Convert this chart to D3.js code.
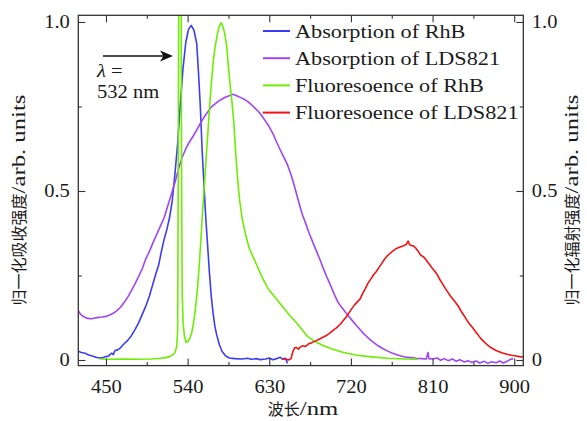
<!DOCTYPE html>
<html>
<head>
<meta charset="utf-8">
<script src="https://cdn.jsdelivr.net/npm/d3@7"></script>
<style>
  html, body { margin: 0; padding: 0; background: #fff; }
  svg { display: block; }
  svg text { fill: #1a1a1a; font-family: "Liberation Serif", "DejaVu Serif", serif; }
  svg text .cjk { font-family: "Noto Sans CJK SC", sans-serif; }
</style>
</head>
<body>
<svg id="chart" width="587" height="421"></svg>
<script>
// Wavelength (nm) and normalised intensity pairs for each spectrum
const absRhB = [
  [419,0.026],[423,0.022],[427,0.02],[431,0.015],[435,0.012],[439,0.008],[443,0.006],[447,0.007],
  [450,0.01],[453,0.012],[456,0.02],[458,0.016],[460,0.028],[463,0.03],[466,0.036],[470,0.048],
  [474,0.058],[478,0.072],[482,0.09],[486,0.11],[490,0.135],[494,0.16],[498,0.19],[502,0.228],
  [505,0.255],[508,0.28],[511,0.32],[514,0.356],[517,0.385],[520,0.42],[523,0.47],[526,0.55],
  [529,0.64],[532,0.76],[535,0.865],[538,0.94],[541,0.978],[544,0.99],[547,0.975],[550,0.937],
  [552,0.85],[554,0.75],[556,0.62],[558,0.52],[560,0.42],[562,0.34],[564,0.26],[566,0.19],
  [568,0.14],[570,0.1],[572,0.075],[575,0.045],[578,0.025],[582,0.012],[586,0.006],[592,0.004],
  [600,0.003],[606,0.005],[610,0.002],[616,0.004],[620,0.001],[626,0.003],[630,0.006],[634,0.001],
  [638,0.004],[642,0.008],[645,0.002],[648,0.005],[650,-0.01]
];

const absLDS821 = [
  [419,0.148],[422,0.135],[426,0.127],[430,0.123],[434,0.122],[438,0.124],[442,0.126],[446,0.127],
  [450,0.129],[454,0.133],[458,0.138],[462,0.146],[466,0.156],[470,0.17],[474,0.186],[478,0.205],
  [482,0.225],[486,0.247],[490,0.27],[494,0.3],[498,0.322],[502,0.348],[506,0.372],[510,0.396],
  [514,0.42],[518,0.455],[522,0.49],[526,0.525],[530,0.565],[534,0.6],[538,0.625],[542,0.645],
  [546,0.662],[550,0.68],[554,0.7],[558,0.718],[562,0.733],[566,0.748],[570,0.757],[574,0.766],
  [578,0.772],[582,0.778],[586,0.782],[590,0.786],[594,0.782],[598,0.777],[602,0.772],[606,0.765],
  [610,0.756],[614,0.746],[618,0.735],[622,0.722],[626,0.706],[630,0.69],[634,0.67],[638,0.645],
  [642,0.622],[646,0.6],[650,0.578],[654,0.548],[658,0.512],[662,0.472],[666,0.434],[670,0.405],
  [674,0.375],[678,0.348],[682,0.322],[686,0.296],[690,0.268],[694,0.242],[698,0.218],[702,0.192],
  [706,0.17],[710,0.155],[714,0.141],[718,0.128],[722,0.115],[726,0.102],[730,0.09],[734,0.078],
  [738,0.068],[742,0.058],[746,0.05],[750,0.042],[755,0.034],[760,0.027],[765,0.021],[770,0.016],
  [775,0.012],[780,0.009],[786,0.007],[792,0.005],[798,0.004],[803,0.003],[805,0.022],[806,0.004],
  [810,0.003],[815,0.006],[819,-0.001],[823,0.004],[827,-0.002],[832,0.003],[836,-0.004],[840,0.001],
  [845,-0.006],[849,-0.002],[853,-0.007],[858,-0.003],[862,-0.009],[867,-0.004],[871,-0.01],[875,-0.005],
  [880,-0.008],[884,-0.003],[888,-0.009],[892,-0.004],[896,0.002],[899,0.004]
];

const fluRhB = [
  [443,0.003],[455,0.002],[470,0.003],[485,0.002],[500,0.003],[510,0.005],[516,0.007],[520,0.01],
  [523,0.014],[526,0.022],[528,0.04],[529,0.09],[529.6,0.5],[530.2,1.1],[532.8,1.1],[533.4,0.5],
  [534,0.2],[535,0.11],[536.5,0.07],[538.5,0.052],[540.5,0.055],[542.5,0.065],[544.5,0.08],
  [546.5,0.11],[548.5,0.15],[550.5,0.2],[552.5,0.27],[554.5,0.35],[556.5,0.44],[558.5,0.52],
  [560.5,0.6],[562.5,0.68],[564.5,0.76],[566.5,0.83],[568.5,0.89],[570.5,0.93],[572.5,0.96],
  [574.5,0.985],[577,0.998],[579,0.985],[581,0.965],[583,0.93],[585,0.865],[587,0.81],[589,0.76],
  [591,0.7],[593,0.61],[595,0.54],[597,0.48],[600,0.42],[604,0.37],[608,0.33],[613,0.3],[618,0.27],
  [623,0.24],[629,0.21],[635,0.19],[641,0.17],[647,0.15],[653,0.13],[660,0.11],[666,0.09],[672,0.07],
  [680,0.055],[690,0.042],[700,0.032],[712,0.022],[725,0.015],[740,0.01],[760,0.005],[780,0.003],
  [794,0.002]
];

const fluLDS821 = [
  [645,0.004],[648,0.002],[651,0.0],[654,0.004],[656,0.025],[658,0.036],[660,0.037],[662,0.032],
  [664,0.038],[667,0.042],[670,0.04],[673,0.047],[676,0.05],[680,0.055],[684,0.06],[688,0.066],
  [692,0.071],[696,0.078],[700,0.087],[704,0.095],[708,0.105],[712,0.118],[715,0.128],[718,0.14],
  [721,0.152],[724,0.163],[727,0.172],[730,0.18],[733,0.197],[736,0.212],[739,0.228],[742,0.24],
  [745,0.252],[748,0.262],[751,0.274],[754,0.286],[757,0.298],[760,0.308],[763,0.315],[766,0.322],
  [769,0.328],[772,0.332],[775,0.335],[778,0.338],[781,0.342],[783,0.352],[785,0.34],[788,0.338],
  [791,0.333],[794,0.322],[797,0.31],[800,0.305],[803,0.296],[806,0.285],[809,0.274],[812,0.264],
  [815,0.253],[818,0.238],[821,0.225],[824,0.212],[827,0.2],[830,0.188],[833,0.178],[836,0.168],
  [839,0.156],[842,0.142],[845,0.13],[848,0.117],[851,0.106],[854,0.096],[857,0.085],[860,0.075],
  [863,0.064],[866,0.056],[869,0.048],[872,0.041],[876,0.034],[880,0.028],[884,0.024],[888,0.02],
  [892,0.017],[897,0.014],[902,0.012],[906,0.01],[910,0.009]
];

const seriesNames = ["Absorption of RhB", "Absorption of LDS821", "Fluoresoence of RhB", "Fluoresoence of LDS821"];
const seriesColors = ["#3c3cf4", "#a044f4", "#6cee00", "#f21212"];

const xMajorTicks = [450, 540, 630, 720, 810, 900];
const xMinorTicks = [495, 585, 675, 765, 855];
const yMajorTicks = [0, 0.5, 1.0];
const yTickLabels = ["0", "0.5", "1.0"];
const yMinorTicks = [0.25, 0.75];

const xTitle = ["波长", "/nm"];
const yTitleLeft = ["归一化吸收强度", "/arb. units"];
const yTitleRight = ["归一化辐射强度", "/arb. units"];
const laserNote = [["λ", " ="], "532 nm"];

// ---- layout ----
const plot = { left: 78.3, right: 523.3, top: 15.3, bottom: 365.6 };
const widen = 1.14;   // horizontal widening applied to the serif text

// widen a text/tspan by stretching its glyphs along the baseline
function stretch(sel, k) {
  sel.each(function () {
    const w = this.getComputedTextLength();
    d3.select(this).attr("textLength", w * k).attr("lengthAdjust", "spacingAndGlyphs");
  });
}

const svg = d3.select("#chart");

const x = d3.scaleLinear().domain([419.5, 910]).range([plot.left, plot.right]);
const y = d3.scaleLinear().domain([-0.0166, 1.0198]).range([plot.bottom, plot.top]);

svg.append("defs").append("clipPath").attr("id", "plot-clip")
  .append("rect")
  .attr("x", plot.left).attr("y", plot.top)
  .attr("width", plot.right - plot.left).attr("height", plot.bottom - plot.top);

// ---- spectra ----
const line = d3.line().x(d => x(d[0])).y(d => y(d[1]));
const allSeries = [absRhB, absLDS821, fluRhB, fluLDS821];
const curves = svg.append("g").attr("clip-path", "url(#plot-clip)");
allSeries.forEach((data, i) => {
  curves.append("path")
    .datum(data)
    .attr("fill", "none")
    .attr("stroke", seriesColors[i])
    .attr("stroke-width", 1.6)
    .attr("stroke-linejoin", "round")
    .attr("d", line);
});

// ---- axes (ticks point inward) ----
const axisColor = "#333";
function styleAxis(g) {
  g.attr("font-family", null).attr("font-size", null);
  g.select(".domain").remove();
  g.selectAll(".tick line").attr("stroke", axisColor).attr("stroke-width", 1.1);
  g.selectAll(".tick text").style("font-size", "18px").attr("fill", "#1a1a1a")
    .call(stretch, widen);
}

svg.append("g").attr("transform", `translate(0,${plot.bottom})`)
  .call(d3.axisBottom(x).tickValues(xMajorTicks).tickSize(-7).tickPadding(14.5).tickFormat(d3.format("d")))
  .call(styleAxis);
svg.append("g").attr("transform", `translate(0,${plot.bottom})`)
  .call(d3.axisBottom(x).tickValues(xMinorTicks).tickSize(-3.5).tickFormat(""))
  .call(styleAxis);
svg.append("g").attr("transform", `translate(0,${plot.top})`)
  .call(d3.axisTop(x).tickValues(xMajorTicks).tickSize(-7).tickFormat(""))
  .call(styleAxis);
svg.append("g").attr("transform", `translate(0,${plot.top})`)
  .call(d3.axisTop(x).tickValues(xMinorTicks).tickSize(-3.5).tickFormat(""))
  .call(styleAxis);

svg.append("g").attr("transform", `translate(${plot.left},0)`)
  .call(d3.axisLeft(y).tickValues(yMajorTicks).tickSize(-7).tickPadding(8.5)
    .tickFormat((d, i) => yTickLabels[i]))
  .call(styleAxis);
svg.append("g").attr("transform", `translate(${plot.left},0)`)
  .call(d3.axisLeft(y).tickValues(yMinorTicks).tickSize(-3.5).tickFormat(""))
  .call(styleAxis);
svg.append("g").attr("transform", `translate(${plot.right},0)`)
  .call(d3.axisRight(y).tickValues(yMajorTicks).tickSize(-7).tickPadding(8.5)
    .tickFormat((d, i) => yTickLabels[i]))
  .call(styleAxis);
svg.append("g").attr("transform", `translate(${plot.right},0)`)
  .call(d3.axisRight(y).tickValues(yMinorTicks).tickSize(-3.5).tickFormat(""))
  .call(styleAxis);

// frame
svg.append("rect")
  .attr("x", plot.left).attr("y", plot.top)
  .attr("width", plot.right - plot.left).attr("height", plot.bottom - plot.top)
  .attr("fill", "none").attr("stroke", axisColor).attr("stroke-width", 1.3);

// ---- axis titles: CJK part followed by serif unit part ----
function title(parts, transform, latinSize) {
  const t = svg.append("text")
    .attr("transform", transform)
    .attr("text-anchor", "middle");
  t.append("tspan").attr("class", "cjk").style("font-size", "16px").text(parts[0]);
  t.append("tspan").style("font-size", latinSize + "px").text(parts[1])
    .call(stretch, 1.3);
  return t;
}
title(xTitle, "translate(303,415)", 19);
title(yTitleLeft, "translate(25,200) rotate(-90)", 19);
title(yTitleRight, "translate(578,200) rotate(-90)", 19);

// ---- legend ----
const legend = svg.append("g");
seriesNames.forEach((name, i) => {
  const ly = 31 + i * 27.2;
  legend.append("line")
    .attr("x1", 263).attr("x2", 290).attr("y1", ly).attr("y2", ly)
    .attr("stroke", seriesColors[i]).attr("stroke-width", 2);
  legend.append("text")
    .attr("x", 295).attr("y", ly + 6.5)
    .style("font-size", "19.5px")
    .text(name)
    .call(stretch, widen);
});

// ---- excitation wavelength annotation ----
svg.append("line")
  .attr("x1", 103).attr("x2", 165).attr("y1", 56).attr("y2", 56)
  .attr("stroke", "#111").attr("stroke-width", 1.4);
svg.append("path")
  .attr("d", "M173,56 L160,50.5 L163.5,56 L160,61.5 Z")
  .attr("fill", "#111");
const lambda = svg.append("text")
  .attr("x", 97).attr("y", 77)
  .style("font-size", "18px");
lambda.append("tspan").style("font-style", "italic").text(laserNote[0][0]);
lambda.append("tspan").text(laserNote[0][1]);
lambda.call(stretch, widen);
svg.append("text")
  .attr("x", 97).attr("y", 98)
  .style("font-size", "18px")
  .text(laserNote[1])
  .call(stretch, widen);
</script>
</body>
</html>
